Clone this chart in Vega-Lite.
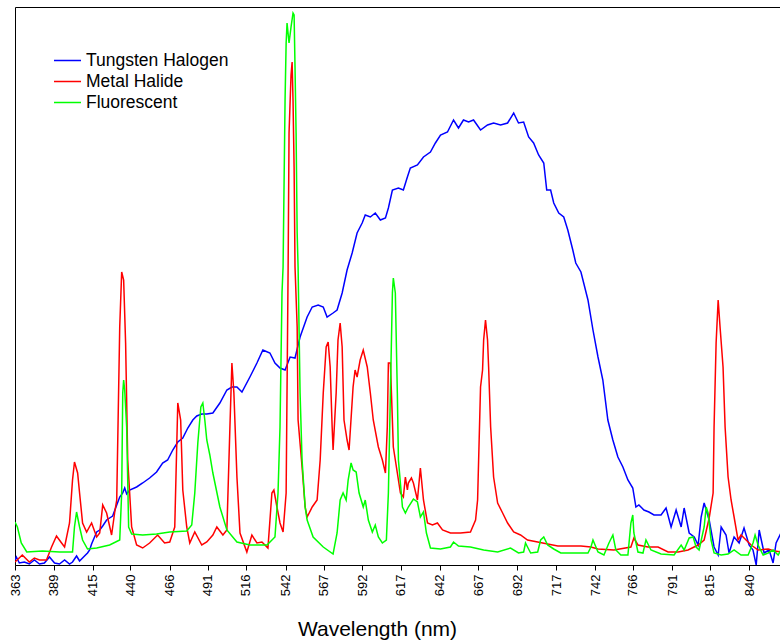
{
"$schema": "https://vega.github.io/schema/vega-lite/v6.json",
"width": 766, "height": 558,
"autosize": {"type": "none"},
"padding": {"left": 15, "top": 7, "right": 0, "bottom": 75},
"background": "white",
"config": {"view": {"stroke": "black", "strokeWidth": 1}, "font": "Liberation Sans"},
"data": {"values": [
{"lamp":"Tungsten Halogen","nm":363.0,"i":5},{"lamp":"Tungsten Halogen","nm":363.9,"i":8},{"lamp":"Tungsten Halogen","nm":365.9,"i":2},{"lamp":"Tungsten Halogen","nm":369.3,"i":3},{"lamp":"Tungsten Halogen","nm":372.6,"i":1},{"lamp":"Tungsten Halogen","nm":376.0,"i":5},{"lamp":"Tungsten Halogen","nm":379.4,"i":1},{"lamp":"Tungsten Halogen","nm":382.7,"i":2},{"lamp":"Tungsten Halogen","nm":386.1,"i":8},{"lamp":"Tungsten Halogen","nm":389.5,"i":2},{"lamp":"Tungsten Halogen","nm":392.8,"i":1},{"lamp":"Tungsten Halogen","nm":396.2,"i":5},{"lamp":"Tungsten Halogen","nm":399.5,"i":1},{"lamp":"Tungsten Halogen","nm":401.5,"i":3},{"lamp":"Tungsten Halogen","nm":404.2,"i":9},{"lamp":"Tungsten Halogen","nm":406.2,"i":4},{"lamp":"Tungsten Halogen","nm":409.5,"i":9},{"lamp":"Tungsten Halogen","nm":411.5,"i":12},{"lamp":"Tungsten Halogen","nm":412.9,"i":15},{"lamp":"Tungsten Halogen","nm":414.2,"i":21},{"lamp":"Tungsten Halogen","nm":417.6,"i":33},{"lamp":"Tungsten Halogen","nm":419.6,"i":35},{"lamp":"Tungsten Halogen","nm":421.6,"i":39},{"lamp":"Tungsten Halogen","nm":424.2,"i":45},{"lamp":"Tungsten Halogen","nm":426.2,"i":47},{"lamp":"Tungsten Halogen","nm":428.2,"i":49},{"lamp":"Tungsten Halogen","nm":430.9,"i":60},{"lamp":"Tungsten Halogen","nm":432.9,"i":68},{"lamp":"Tungsten Halogen","nm":434.9,"i":72},{"lamp":"Tungsten Halogen","nm":436.2,"i":77},{"lamp":"Tungsten Halogen","nm":437.5,"i":71},{"lamp":"Tungsten Halogen","nm":439.5,"i":75},{"lamp":"Tungsten Halogen","nm":444.1,"i":78},{"lamp":"Tungsten Halogen","nm":448.1,"i":82},{"lamp":"Tungsten Halogen","nm":452.7,"i":87},{"lamp":"Tungsten Halogen","nm":457.3,"i":93},{"lamp":"Tungsten Halogen","nm":461.3,"i":102},{"lamp":"Tungsten Halogen","nm":464.6,"i":105},{"lamp":"Tungsten Halogen","nm":468.0,"i":115},{"lamp":"Tungsten Halogen","nm":471.3,"i":123},{"lamp":"Tungsten Halogen","nm":474.6,"i":127},{"lamp":"Tungsten Halogen","nm":477.9,"i":137},{"lamp":"Tungsten Halogen","nm":481.2,"i":145},{"lamp":"Tungsten Halogen","nm":483.8,"i":149},{"lamp":"Tungsten Halogen","nm":487.1,"i":151},{"lamp":"Tungsten Halogen","nm":490.4,"i":151},{"lamp":"Tungsten Halogen","nm":494.4,"i":152},{"lamp":"Tungsten Halogen","nm":499.0,"i":162},{"lamp":"Tungsten Halogen","nm":503.6,"i":175},{"lamp":"Tungsten Halogen","nm":506.9,"i":178},{"lamp":"Tungsten Halogen","nm":510.2,"i":178},{"lamp":"Tungsten Halogen","nm":513.5,"i":173},{"lamp":"Tungsten Halogen","nm":518.7,"i":188},{"lamp":"Tungsten Halogen","nm":523.3,"i":202},{"lamp":"Tungsten Halogen","nm":527.2,"i":215},{"lamp":"Tungsten Halogen","nm":531.8,"i":212},{"lamp":"Tungsten Halogen","nm":535.1,"i":202},{"lamp":"Tungsten Halogen","nm":538.4,"i":197},{"lamp":"Tungsten Halogen","nm":541.7,"i":195},{"lamp":"Tungsten Halogen","nm":545.0,"i":208},{"lamp":"Tungsten Halogen","nm":548.2,"i":207},{"lamp":"Tungsten Halogen","nm":551.5,"i":228},{"lamp":"Tungsten Halogen","nm":556.1,"i":248},{"lamp":"Tungsten Halogen","nm":559.4,"i":258},{"lamp":"Tungsten Halogen","nm":563.3,"i":260},{"lamp":"Tungsten Halogen","nm":566.6,"i":258},{"lamp":"Tungsten Halogen","nm":569.1,"i":248},{"lamp":"Tungsten Halogen","nm":573.0,"i":252},{"lamp":"Tungsten Halogen","nm":575.6,"i":255},{"lamp":"Tungsten Halogen","nm":578.9,"i":272},{"lamp":"Tungsten Halogen","nm":582.1,"i":295},{"lamp":"Tungsten Halogen","nm":585.4,"i":312},{"lamp":"Tungsten Halogen","nm":588.6,"i":332},{"lamp":"Tungsten Halogen","nm":591.9,"i":342},{"lamp":"Tungsten Halogen","nm":593.9,"i":350},{"lamp":"Tungsten Halogen","nm":597.2,"i":348},{"lamp":"Tungsten Halogen","nm":600.4,"i":352},{"lamp":"Tungsten Halogen","nm":603.7,"i":345},{"lamp":"Tungsten Halogen","nm":607.0,"i":347},{"lamp":"Tungsten Halogen","nm":608.9,"i":357},{"lamp":"Tungsten Halogen","nm":611.5,"i":375},{"lamp":"Tungsten Halogen","nm":615.4,"i":377},{"lamp":"Tungsten Halogen","nm":618.6,"i":375},{"lamp":"Tungsten Halogen","nm":621.2,"i":388},{"lamp":"Tungsten Halogen","nm":623.1,"i":397},{"lamp":"Tungsten Halogen","nm":627.7,"i":400},{"lamp":"Tungsten Halogen","nm":631.6,"i":408},{"lamp":"Tungsten Halogen","nm":636.1,"i":413},{"lamp":"Tungsten Halogen","nm":639.3,"i":422},{"lamp":"Tungsten Halogen","nm":642.6,"i":430},{"lamp":"Tungsten Halogen","nm":647.1,"i":433},{"lamp":"Tungsten Halogen","nm":651.0,"i":445},{"lamp":"Tungsten Halogen","nm":654.2,"i":437},{"lamp":"Tungsten Halogen","nm":657.4,"i":445},{"lamp":"Tungsten Halogen","nm":660.7,"i":443},{"lamp":"Tungsten Halogen","nm":663.9,"i":445},{"lamp":"Tungsten Halogen","nm":668.4,"i":435},{"lamp":"Tungsten Halogen","nm":672.9,"i":440},{"lamp":"Tungsten Halogen","nm":676.8,"i":442},{"lamp":"Tungsten Halogen","nm":681.3,"i":440},{"lamp":"Tungsten Halogen","nm":685.8,"i":442},{"lamp":"Tungsten Halogen","nm":689.7,"i":452},{"lamp":"Tungsten Halogen","nm":692.8,"i":442},{"lamp":"Tungsten Halogen","nm":696.1,"i":443},{"lamp":"Tungsten Halogen","nm":699.3,"i":428},{"lamp":"Tungsten Halogen","nm":702.5,"i":422},{"lamp":"Tungsten Halogen","nm":705.7,"i":410},{"lamp":"Tungsten Halogen","nm":709.0,"i":402},{"lamp":"Tungsten Halogen","nm":710.9,"i":375},{"lamp":"Tungsten Halogen","nm":713.4,"i":375},{"lamp":"Tungsten Halogen","nm":715.4,"i":362},{"lamp":"Tungsten Halogen","nm":718.6,"i":352},{"lamp":"Tungsten Halogen","nm":721.8,"i":348},{"lamp":"Tungsten Halogen","nm":724.4,"i":335},{"lamp":"Tungsten Halogen","nm":727.6,"i":315},{"lamp":"Tungsten Halogen","nm":729.5,"i":302},{"lamp":"Tungsten Halogen","nm":732.8,"i":293},{"lamp":"Tungsten Halogen","nm":737.3,"i":265},{"lamp":"Tungsten Halogen","nm":740.5,"i":235},{"lamp":"Tungsten Halogen","nm":743.7,"i":208},{"lamp":"Tungsten Halogen","nm":746.8,"i":185},{"lamp":"Tungsten Halogen","nm":750.0,"i":145},{"lamp":"Tungsten Halogen","nm":753.2,"i":125},{"lamp":"Tungsten Halogen","nm":756.4,"i":108},{"lamp":"Tungsten Halogen","nm":759.6,"i":98},{"lamp":"Tungsten Halogen","nm":762.8,"i":85},{"lamp":"Tungsten Halogen","nm":765.9,"i":77},{"lamp":"Tungsten Halogen","nm":767.9,"i":58},{"lamp":"Tungsten Halogen","nm":769.8,"i":60},{"lamp":"Tungsten Halogen","nm":773.0,"i":55},{"lamp":"Tungsten Halogen","nm":776.2,"i":53},{"lamp":"Tungsten Halogen","nm":779.4,"i":50},{"lamp":"Tungsten Halogen","nm":783.9,"i":50},{"lamp":"Tungsten Halogen","nm":787.1,"i":57},{"lamp":"Tungsten Halogen","nm":790.3,"i":38},{"lamp":"Tungsten Halogen","nm":793.5,"i":55},{"lamp":"Tungsten Halogen","nm":796.7,"i":38},{"lamp":"Tungsten Halogen","nm":798.6,"i":57},{"lamp":"Tungsten Halogen","nm":801.8,"i":32},{"lamp":"Tungsten Halogen","nm":805.0,"i":28},{"lamp":"Tungsten Halogen","nm":807.5,"i":20},{"lamp":"Tungsten Halogen","nm":809.4,"i":48},{"lamp":"Tungsten Halogen","nm":811.3,"i":62},{"lamp":"Tungsten Halogen","nm":814.5,"i":45},{"lamp":"Tungsten Halogen","nm":817.6,"i":18},{"lamp":"Tungsten Halogen","nm":820.2,"i":10},{"lamp":"Tungsten Halogen","nm":822.1,"i":38},{"lamp":"Tungsten Halogen","nm":825.2,"i":30},{"lamp":"Tungsten Halogen","nm":827.1,"i":12},{"lamp":"Tungsten Halogen","nm":830.3,"i":28},{"lamp":"Tungsten Halogen","nm":833.5,"i":22},{"lamp":"Tungsten Halogen","nm":836.6,"i":37},{"lamp":"Tungsten Halogen","nm":839.8,"i":20},{"lamp":"Tungsten Halogen","nm":842.3,"i":15},{"lamp":"Tungsten Halogen","nm":844.3,"i":0},{"lamp":"Tungsten Halogen","nm":846.2,"i":35},{"lamp":"Tungsten Halogen","nm":849.3,"i":12},{"lamp":"Tungsten Halogen","nm":852.5,"i":15},{"lamp":"Tungsten Halogen","nm":855.0,"i":2},{"lamp":"Tungsten Halogen","nm":856.9,"i":22},{"lamp":"Tungsten Halogen","nm":860.0,"i":32},
{"lamp":"Metal Halide","nm":363.0,"i":3},{"lamp":"Metal Halide","nm":367.9,"i":10},{"lamp":"Metal Halide","nm":372.6,"i":3},{"lamp":"Metal Halide","nm":376.0,"i":7},{"lamp":"Metal Halide","nm":379.4,"i":5},{"lamp":"Metal Halide","nm":384.1,"i":5},{"lamp":"Metal Halide","nm":387.5,"i":18},{"lamp":"Metal Halide","nm":390.8,"i":29},{"lamp":"Metal Halide","nm":394.2,"i":22},{"lamp":"Metal Halide","nm":396.2,"i":18},{"lamp":"Metal Halide","nm":399.5,"i":42},{"lamp":"Metal Halide","nm":401.5,"i":85},{"lamp":"Metal Halide","nm":402.8,"i":103},{"lamp":"Metal Halide","nm":404.9,"i":92},{"lamp":"Metal Halide","nm":406.2,"i":72},{"lamp":"Metal Halide","nm":408.2,"i":42},{"lamp":"Metal Halide","nm":410.9,"i":33},{"lamp":"Metal Halide","nm":414.2,"i":42},{"lamp":"Metal Halide","nm":417.6,"i":28},{"lamp":"Metal Halide","nm":419.6,"i":32},{"lamp":"Metal Halide","nm":421.6,"i":60},{"lamp":"Metal Halide","nm":424.2,"i":52},{"lamp":"Metal Halide","nm":427.5,"i":30},{"lamp":"Metal Halide","nm":429.5,"i":52},{"lamp":"Metal Halide","nm":430.9,"i":65},{"lamp":"Metal Halide","nm":432.9,"i":238},{"lamp":"Metal Halide","nm":434.2,"i":293},{"lamp":"Metal Halide","nm":435.5,"i":285},{"lamp":"Metal Halide","nm":436.8,"i":222},{"lamp":"Metal Halide","nm":438.2,"i":105},{"lamp":"Metal Halide","nm":440.8,"i":38},{"lamp":"Metal Halide","nm":444.1,"i":20},{"lamp":"Metal Halide","nm":448.1,"i":17},{"lamp":"Metal Halide","nm":452.7,"i":22},{"lamp":"Metal Halide","nm":458.0,"i":30},{"lamp":"Metal Halide","nm":462.6,"i":22},{"lamp":"Metal Halide","nm":466.0,"i":23},{"lamp":"Metal Halide","nm":469.3,"i":38},{"lamp":"Metal Halide","nm":471.3,"i":162},{"lamp":"Metal Halide","nm":473.2,"i":145},{"lamp":"Metal Halide","nm":474.6,"i":75},{"lamp":"Metal Halide","nm":477.2,"i":38},{"lamp":"Metal Halide","nm":479.2,"i":22},{"lamp":"Metal Halide","nm":482.5,"i":33},{"lamp":"Metal Halide","nm":487.1,"i":20},{"lamp":"Metal Halide","nm":490.4,"i":23},{"lamp":"Metal Halide","nm":494.4,"i":30},{"lamp":"Metal Halide","nm":497.0,"i":38},{"lamp":"Metal Halide","nm":501.0,"i":30},{"lamp":"Metal Halide","nm":503.6,"i":35},{"lamp":"Metal Halide","nm":505.6,"i":138},{"lamp":"Metal Halide","nm":506.9,"i":202},{"lamp":"Metal Halide","nm":508.2,"i":172},{"lamp":"Metal Halide","nm":510.2,"i":88},{"lamp":"Metal Halide","nm":512.2,"i":32},{"lamp":"Metal Halide","nm":516.7,"i":13},{"lamp":"Metal Halide","nm":520.0,"i":30},{"lamp":"Metal Halide","nm":523.3,"i":22},{"lamp":"Metal Halide","nm":526.6,"i":23},{"lamp":"Metal Halide","nm":530.5,"i":17},{"lamp":"Metal Halide","nm":533.1,"i":72},{"lamp":"Metal Halide","nm":534.4,"i":75},{"lamp":"Metal Halide","nm":536.4,"i":58},{"lamp":"Metal Halide","nm":538.4,"i":42},{"lamp":"Metal Halide","nm":540.4,"i":33},{"lamp":"Metal Halide","nm":542.4,"i":72},{"lamp":"Metal Halide","nm":543.7,"i":298},{"lamp":"Metal Halide","nm":544.3,"i":432},{"lamp":"Metal Halide","nm":545.6,"i":490},{"lamp":"Metal Halide","nm":546.3,"i":503},{"lamp":"Metal Halide","nm":546.9,"i":465},{"lamp":"Metal Halide","nm":547.6,"i":398},{"lamp":"Metal Halide","nm":548.2,"i":298},{"lamp":"Metal Halide","nm":549.6,"i":238},{"lamp":"Metal Halide","nm":550.2,"i":145},{"lamp":"Metal Halide","nm":552.8,"i":98},{"lamp":"Metal Halide","nm":554.8,"i":58},{"lamp":"Metal Halide","nm":556.1,"i":48},{"lamp":"Metal Halide","nm":559.4,"i":58},{"lamp":"Metal Halide","nm":562.6,"i":65},{"lamp":"Metal Halide","nm":564.6,"i":105},{"lamp":"Metal Halide","nm":566.6,"i":172},{"lamp":"Metal Halide","nm":568.5,"i":218},{"lamp":"Metal Halide","nm":569.8,"i":223},{"lamp":"Metal Halide","nm":571.1,"i":198},{"lamp":"Metal Halide","nm":572.4,"i":138},{"lamp":"Metal Halide","nm":573.0,"i":115},{"lamp":"Metal Halide","nm":575.0,"i":172},{"lamp":"Metal Halide","nm":576.2,"i":225},{"lamp":"Metal Halide","nm":577.6,"i":242},{"lamp":"Metal Halide","nm":578.9,"i":218},{"lamp":"Metal Halide","nm":580.1,"i":145},{"lamp":"Metal Halide","nm":582.1,"i":125},{"lamp":"Metal Halide","nm":583.4,"i":115},{"lamp":"Metal Halide","nm":586.0,"i":178},{"lamp":"Metal Halide","nm":587.3,"i":195},{"lamp":"Metal Halide","nm":588.6,"i":188},{"lamp":"Metal Halide","nm":590.6,"i":205},{"lamp":"Metal Halide","nm":592.6,"i":215},{"lamp":"Metal Halide","nm":595.2,"i":198},{"lamp":"Metal Halide","nm":597.2,"i":172},{"lamp":"Metal Halide","nm":599.1,"i":145},{"lamp":"Metal Halide","nm":602.4,"i":118},{"lamp":"Metal Halide","nm":605.0,"i":105},{"lamp":"Metal Halide","nm":607.0,"i":92},{"lamp":"Metal Halide","nm":608.2,"i":138},{"lamp":"Metal Halide","nm":608.9,"i":202},{"lamp":"Metal Halide","nm":610.2,"i":202},{"lamp":"Metal Halide","nm":612.1,"i":118},{"lamp":"Metal Halide","nm":614.7,"i":92},{"lamp":"Metal Halide","nm":616.7,"i":72},{"lamp":"Metal Halide","nm":618.6,"i":68},{"lamp":"Metal Halide","nm":619.9,"i":88},{"lamp":"Metal Halide","nm":621.2,"i":75},{"lamp":"Metal Halide","nm":621.8,"i":82},{"lamp":"Metal Halide","nm":623.8,"i":87},{"lamp":"Metal Halide","nm":625.1,"i":82},{"lamp":"Metal Halide","nm":627.7,"i":65},{"lamp":"Metal Halide","nm":629.6,"i":97},{"lamp":"Metal Halide","nm":631.6,"i":65},{"lamp":"Metal Halide","nm":634.2,"i":42},{"lamp":"Metal Halide","nm":637.4,"i":40},{"lamp":"Metal Halide","nm":640.6,"i":42},{"lamp":"Metal Halide","nm":643.9,"i":35},{"lamp":"Metal Halide","nm":649.0,"i":32},{"lamp":"Metal Halide","nm":655.5,"i":32},{"lamp":"Metal Halide","nm":661.9,"i":33},{"lamp":"Metal Halide","nm":665.2,"i":45},{"lamp":"Metal Halide","nm":666.5,"i":65},{"lamp":"Metal Halide","nm":668.4,"i":178},{"lamp":"Metal Halide","nm":669.7,"i":195},{"lamp":"Metal Halide","nm":670.4,"i":225},{"lamp":"Metal Halide","nm":671.6,"i":245},{"lamp":"Metal Halide","nm":672.9,"i":225},{"lamp":"Metal Halide","nm":673.6,"i":198},{"lamp":"Metal Halide","nm":674.9,"i":138},{"lamp":"Metal Halide","nm":676.8,"i":88},{"lamp":"Metal Halide","nm":679.4,"i":62},{"lamp":"Metal Halide","nm":682.6,"i":52},{"lamp":"Metal Halide","nm":685.8,"i":42},{"lamp":"Metal Halide","nm":689.7,"i":33},{"lamp":"Metal Halide","nm":694.1,"i":30},{"lamp":"Metal Halide","nm":698.6,"i":25},{"lamp":"Metal Halide","nm":705.1,"i":23},{"lamp":"Metal Halide","nm":711.5,"i":21},{"lamp":"Metal Halide","nm":718.0,"i":19},{"lamp":"Metal Halide","nm":726.3,"i":19},{"lamp":"Metal Halide","nm":732.8,"i":19},{"lamp":"Metal Halide","nm":739.2,"i":18},{"lamp":"Metal Halide","nm":743.7,"i":16},{"lamp":"Metal Halide","nm":753.9,"i":15},{"lamp":"Metal Halide","nm":764.7,"i":18},{"lamp":"Metal Halide","nm":766.6,"i":27},{"lamp":"Metal Halide","nm":769.2,"i":20},{"lamp":"Metal Halide","nm":775.6,"i":18},{"lamp":"Metal Halide","nm":782.0,"i":18},{"lamp":"Metal Halide","nm":788.4,"i":13},{"lamp":"Metal Halide","nm":794.8,"i":13},{"lamp":"Metal Halide","nm":801.1,"i":15},{"lamp":"Metal Halide","nm":807.5,"i":20},{"lamp":"Metal Halide","nm":811.3,"i":25},{"lamp":"Metal Halide","nm":814.5,"i":47},{"lamp":"Metal Halide","nm":817.0,"i":72},{"lamp":"Metal Halide","nm":817.6,"i":138},{"lamp":"Metal Halide","nm":818.9,"i":222},{"lamp":"Metal Halide","nm":820.2,"i":265},{"lamp":"Metal Halide","nm":821.4,"i":238},{"lamp":"Metal Halide","nm":823.3,"i":198},{"lamp":"Metal Halide","nm":824.6,"i":138},{"lamp":"Metal Halide","nm":826.5,"i":88},{"lamp":"Metal Halide","nm":828.4,"i":65},{"lamp":"Metal Halide","nm":830.3,"i":48},{"lamp":"Metal Halide","nm":832.8,"i":25},{"lamp":"Metal Halide","nm":834.7,"i":30},{"lamp":"Metal Halide","nm":837.9,"i":25},{"lamp":"Metal Halide","nm":841.1,"i":20},{"lamp":"Metal Halide","nm":845.5,"i":15},{"lamp":"Metal Halide","nm":851.9,"i":16},{"lamp":"Metal Halide","nm":855.7,"i":14},{"lamp":"Metal Halide","nm":860.0,"i":13},
{"lamp":"Fluorescent","nm":363.0,"i":43},{"lamp":"Fluorescent","nm":364.6,"i":38},{"lamp":"Fluorescent","nm":367.2,"i":22},{"lamp":"Fluorescent","nm":370.9,"i":13},{"lamp":"Fluorescent","nm":381.4,"i":14},{"lamp":"Fluorescent","nm":392.8,"i":13},{"lamp":"Fluorescent","nm":401.5,"i":13},{"lamp":"Fluorescent","nm":402.8,"i":38},{"lamp":"Fluorescent","nm":404.2,"i":53},{"lamp":"Fluorescent","nm":406.2,"i":38},{"lamp":"Fluorescent","nm":408.2,"i":25},{"lamp":"Fluorescent","nm":411.5,"i":16},{"lamp":"Fluorescent","nm":417.6,"i":17},{"lamp":"Fluorescent","nm":426.2,"i":20},{"lamp":"Fluorescent","nm":432.9,"i":25},{"lamp":"Fluorescent","nm":434.2,"i":72},{"lamp":"Fluorescent","nm":434.9,"i":172},{"lamp":"Fluorescent","nm":435.5,"i":185},{"lamp":"Fluorescent","nm":436.2,"i":175},{"lamp":"Fluorescent","nm":437.5,"i":138},{"lamp":"Fluorescent","nm":438.8,"i":38},{"lamp":"Fluorescent","nm":440.8,"i":31},{"lamp":"Fluorescent","nm":448.1,"i":30},{"lamp":"Fluorescent","nm":457.3,"i":31},{"lamp":"Fluorescent","nm":466.0,"i":33},{"lamp":"Fluorescent","nm":477.2,"i":34},{"lamp":"Fluorescent","nm":480.5,"i":40},{"lamp":"Fluorescent","nm":482.5,"i":72},{"lamp":"Fluorescent","nm":484.5,"i":122},{"lamp":"Fluorescent","nm":486.5,"i":158},{"lamp":"Fluorescent","nm":487.8,"i":162},{"lamp":"Fluorescent","nm":489.1,"i":145},{"lamp":"Fluorescent","nm":490.4,"i":125},{"lamp":"Fluorescent","nm":492.4,"i":110},{"lamp":"Fluorescent","nm":494.4,"i":92},{"lamp":"Fluorescent","nm":499.0,"i":58},{"lamp":"Fluorescent","nm":503.6,"i":35},{"lamp":"Fluorescent","nm":510.2,"i":23},{"lamp":"Fluorescent","nm":518.7,"i":20},{"lamp":"Fluorescent","nm":529.9,"i":20},{"lamp":"Fluorescent","nm":535.1,"i":28},{"lamp":"Fluorescent","nm":537.1,"i":72},{"lamp":"Fluorescent","nm":538.4,"i":138},{"lamp":"Fluorescent","nm":539.7,"i":272},{"lamp":"Fluorescent","nm":540.4,"i":298},{"lamp":"Fluorescent","nm":541.7,"i":465},{"lamp":"Fluorescent","nm":542.4,"i":522},{"lamp":"Fluorescent","nm":543.0,"i":542},{"lamp":"Fluorescent","nm":544.3,"i":522},{"lamp":"Fluorescent","nm":545.6,"i":538},{"lamp":"Fluorescent","nm":546.9,"i":552},{"lamp":"Fluorescent","nm":547.6,"i":550},{"lamp":"Fluorescent","nm":548.2,"i":498},{"lamp":"Fluorescent","nm":548.9,"i":432},{"lamp":"Fluorescent","nm":549.6,"i":332},{"lamp":"Fluorescent","nm":550.2,"i":298},{"lamp":"Fluorescent","nm":551.5,"i":172},{"lamp":"Fluorescent","nm":552.8,"i":105},{"lamp":"Fluorescent","nm":554.8,"i":58},{"lamp":"Fluorescent","nm":556.1,"i":45},{"lamp":"Fluorescent","nm":560.0,"i":28},{"lamp":"Fluorescent","nm":566.6,"i":18},{"lamp":"Fluorescent","nm":573.0,"i":11},{"lamp":"Fluorescent","nm":575.6,"i":32},{"lamp":"Fluorescent","nm":577.6,"i":65},{"lamp":"Fluorescent","nm":579.5,"i":72},{"lamp":"Fluorescent","nm":581.5,"i":65},{"lamp":"Fluorescent","nm":582.8,"i":85},{"lamp":"Fluorescent","nm":584.7,"i":102},{"lamp":"Fluorescent","nm":586.0,"i":95},{"lamp":"Fluorescent","nm":588.0,"i":93},{"lamp":"Fluorescent","nm":589.9,"i":72},{"lamp":"Fluorescent","nm":592.6,"i":58},{"lamp":"Fluorescent","nm":593.9,"i":65},{"lamp":"Fluorescent","nm":595.9,"i":45},{"lamp":"Fluorescent","nm":598.5,"i":33},{"lamp":"Fluorescent","nm":600.4,"i":40},{"lamp":"Fluorescent","nm":602.4,"i":28},{"lamp":"Fluorescent","nm":605.0,"i":22},{"lamp":"Fluorescent","nm":607.6,"i":25},{"lamp":"Fluorescent","nm":608.9,"i":72},{"lamp":"Fluorescent","nm":610.2,"i":172},{"lamp":"Fluorescent","nm":611.5,"i":272},{"lamp":"Fluorescent","nm":612.1,"i":287},{"lamp":"Fluorescent","nm":613.4,"i":272},{"lamp":"Fluorescent","nm":614.7,"i":172},{"lamp":"Fluorescent","nm":615.4,"i":105},{"lamp":"Fluorescent","nm":618.0,"i":58},{"lamp":"Fluorescent","nm":619.9,"i":52},{"lamp":"Fluorescent","nm":621.8,"i":58},{"lamp":"Fluorescent","nm":625.1,"i":66},{"lamp":"Fluorescent","nm":627.7,"i":63},{"lamp":"Fluorescent","nm":629.6,"i":48},{"lamp":"Fluorescent","nm":631.6,"i":53},{"lamp":"Fluorescent","nm":633.5,"i":32},{"lamp":"Fluorescent","nm":636.1,"i":17},{"lamp":"Fluorescent","nm":642.6,"i":16},{"lamp":"Fluorescent","nm":649.0,"i":18},{"lamp":"Fluorescent","nm":651.0,"i":23},{"lamp":"Fluorescent","nm":654.2,"i":19},{"lamp":"Fluorescent","nm":661.9,"i":18},{"lamp":"Fluorescent","nm":670.4,"i":15},{"lamp":"Fluorescent","nm":679.4,"i":13},{"lamp":"Fluorescent","nm":687.7,"i":17},{"lamp":"Fluorescent","nm":692.8,"i":12},{"lamp":"Fluorescent","nm":696.1,"i":13},{"lamp":"Fluorescent","nm":697.3,"i":22},{"lamp":"Fluorescent","nm":698.6,"i":18},{"lamp":"Fluorescent","nm":700.6,"i":12},{"lamp":"Fluorescent","nm":705.1,"i":13},{"lamp":"Fluorescent","nm":707.0,"i":25},{"lamp":"Fluorescent","nm":709.0,"i":28},{"lamp":"Fluorescent","nm":711.5,"i":20},{"lamp":"Fluorescent","nm":715.4,"i":16},{"lamp":"Fluorescent","nm":719.9,"i":12},{"lamp":"Fluorescent","nm":726.3,"i":12},{"lamp":"Fluorescent","nm":732.8,"i":12},{"lamp":"Fluorescent","nm":737.3,"i":12},{"lamp":"Fluorescent","nm":739.2,"i":18},{"lamp":"Fluorescent","nm":740.5,"i":25},{"lamp":"Fluorescent","nm":743.7,"i":13},{"lamp":"Fluorescent","nm":747.5,"i":10},{"lamp":"Fluorescent","nm":750.7,"i":22},{"lamp":"Fluorescent","nm":753.2,"i":30},{"lamp":"Fluorescent","nm":755.1,"i":15},{"lamp":"Fluorescent","nm":758.3,"i":10},{"lamp":"Fluorescent","nm":762.8,"i":10},{"lamp":"Fluorescent","nm":764.7,"i":42},{"lamp":"Fluorescent","nm":765.9,"i":50},{"lamp":"Fluorescent","nm":766.6,"i":32},{"lamp":"Fluorescent","nm":769.2,"i":13},{"lamp":"Fluorescent","nm":772.4,"i":12},{"lamp":"Fluorescent","nm":774.3,"i":25},{"lamp":"Fluorescent","nm":777.5,"i":15},{"lamp":"Fluorescent","nm":783.9,"i":11},{"lamp":"Fluorescent","nm":792.2,"i":10},{"lamp":"Fluorescent","nm":796.7,"i":20},{"lamp":"Fluorescent","nm":798.6,"i":15},{"lamp":"Fluorescent","nm":801.8,"i":27},{"lamp":"Fluorescent","nm":804.3,"i":28},{"lamp":"Fluorescent","nm":806.2,"i":18},{"lamp":"Fluorescent","nm":808.1,"i":15},{"lamp":"Fluorescent","nm":811.3,"i":38},{"lamp":"Fluorescent","nm":812.6,"i":58},{"lamp":"Fluorescent","nm":813.8,"i":52},{"lamp":"Fluorescent","nm":815.7,"i":25},{"lamp":"Fluorescent","nm":817.6,"i":12},{"lamp":"Fluorescent","nm":822.1,"i":10},{"lamp":"Fluorescent","nm":826.5,"i":11},{"lamp":"Fluorescent","nm":830.3,"i":15},{"lamp":"Fluorescent","nm":834.7,"i":10},{"lamp":"Fluorescent","nm":839.2,"i":10},{"lamp":"Fluorescent","nm":842.3,"i":22},{"lamp":"Fluorescent","nm":843.6,"i":30},{"lamp":"Fluorescent","nm":845.5,"i":20},{"lamp":"Fluorescent","nm":848.7,"i":10},{"lamp":"Fluorescent","nm":851.9,"i":12},{"lamp":"Fluorescent","nm":855.0,"i":15},{"lamp":"Fluorescent","nm":858.2,"i":10},{"lamp":"Fluorescent","nm":860.0,"i":15}
]},
"mark": {"type": "line", "strokeWidth": 1.5, "clip": true},
"encoding": {
  "x": {"field": "nm", "type": "quantitative",
    "scale": {"type": "pow", "exponent": 1.07, "domain": [363, 860], "nice": false, "zero": false},
    "axis": {"values": [363,389,415,440,466,491,516,542,567,592,617,642,667,692,717,742,766,791,815,840],
      "format": "d", "labelAngle": -90, "labelFontSize": 13, "labelColor": "black", "labelFont": "Liberation Sans",
      "labelFlush": false, "labelOverlap": false, "labelPadding": 4,
      "tickColor": "black", "domainColor": "black", "tickSize": 5, "grid": false,
      "title": "Wavelength (nm)", "titleFont": "Liberation Sans", "titleFontSize": 21, "titleFontWeight": "normal",
      "titleColor": "black", "titleX": 362, "titleY": 70, "titleBaseline": "alphabetic"}},
  "y": {"field": "i", "type": "quantitative", "scale": {"domain": [0, 558], "nice": false, "zero": true}, "axis": null},
  "color": {"field": "lamp", "type": "nominal",
    "scale": {"domain": ["Tungsten Halogen", "Metal Halide", "Fluorescent"], "range": ["#0000ff", "#ff0000", "#00ff00"]},
    "legend": {"orient": "none", "legendX": 38, "legendY": 43, "title": null, "symbolType": "stroke",
      "symbolSize": 729, "symbolStrokeWidth": 1.5, "clipHeight": 21, "rowPadding": 0,
      "labelFontSize": 17.5, "labelFont": "Liberation Sans", "labelColor": "black", "labelOffset": 4}}
}
}
